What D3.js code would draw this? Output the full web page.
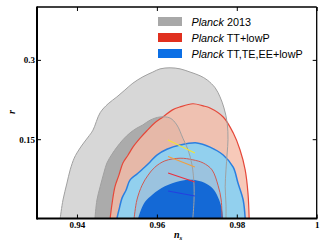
<!DOCTYPE html>
<html><head><meta charset="utf-8">
<script src="https://cdn.jsdelivr.net/npm/d3@7"></script>
<style>body{margin:0;background:#fff}svg{display:block}</style>
</head><body>
<script>
// ---- data (n_s, r) ----
const xTicks = [0.94, 0.96, 0.98, 1.0];
const xTickLabels = ["0.94", "0.96", "0.98", "1"];
const yTicks = [0.15, 0.3];
const yTickLabels = ["0.15", "0.3"];
const legendLabels = [["Planck", " 2013"], ["Planck", " TT+lowP"], ["Planck", " TT,TE,EE+lowP"]];

const grey95 = [[0.9358,0],[0.9365,0.035],[0.9375,0.067],[0.9383,0.092],[0.9393,0.114],[0.9400,0.124],[0.9413,0.139],[0.9428,0.154],[0.9440,0.167],[0.9458,0.2],[0.9478,0.217],[0.9500,0.230],[0.9520,0.243],[0.9540,0.256],[0.9565,0.268],[0.9590,0.277],[0.9608,0.283],[0.9633,0.285],[0.9658,0.283],[0.9683,0.277],[0.9708,0.270],[0.9726,0.262],[0.9746,0.247],[0.9758,0.230],[0.9768,0.209],[0.9776,0.181],[0.9778,0.149],[0.9776,0.124],[0.9773,0.092],[0.9771,0.060],[0.9773,0.026],[0.9773,0]];
const grey68 = [[0.9445,0],[0.9450,0.035],[0.9458,0.060],[0.9468,0.088],[0.9475,0.105],[0.9488,0.122],[0.9500,0.135],[0.9515,0.149],[0.9533,0.162],[0.9550,0.171],[0.9565,0.177],[0.9583,0.186],[0.9608,0.192],[0.9633,0.190],[0.9650,0.177],[0.9665,0.152],[0.9678,0.130],[0.9688,0.101],[0.9693,0.063],[0.9693,0.035],[0.9690,0]];
const red95 = [[0.9483,0],[0.9488,0.029],[0.9495,0.060],[0.9505,0.082],[0.9515,0.105],[0.9528,0.120],[0.9540,0.135],[0.9558,0.152],[0.9575,0.166],[0.9595,0.181],[0.9615,0.192],[0.9638,0.205],[0.9658,0.211],[0.9690,0.217],[0.9716,0.213],[0.9733,0.209],[0.9766,0.192],[0.9791,0.162],[0.9808,0.130],[0.9821,0.092],[0.9828,0.048],[0.9831,0]];
const red68 = [[0.9543,0],[0.9550,0.035],[0.9563,0.063],[0.9578,0.082],[0.9595,0.097],[0.9620,0.109],[0.9658,0.114],[0.9690,0.111],[0.9716,0.105],[0.9738,0.092],[0.9753,0.063],[0.9761,0.035],[0.9763,0]];
const blue95 = [[0.9500,0],[0.9505,0.016],[0.9513,0.039],[0.9523,0.054],[0.9533,0.073],[0.9550,0.084],[0.9565,0.094],[0.9583,0.107],[0.9600,0.120],[0.9625,0.131],[0.9658,0.139],[0.9700,0.143],[0.9733,0.135],[0.9766,0.120],[0.9791,0.097],[0.9803,0.067],[0.9816,0.035],[0.9821,0]];
const blue68 = [[0.9553,0],[0.9560,0.016],[0.9570,0.031],[0.9590,0.046],[0.9620,0.061],[0.9658,0.071],[0.9695,0.073],[0.9726,0.065],[0.9743,0.054],[0.9756,0.035],[0.9763,0.016],[0.9766,0]];
const segYellow = [[0.9628,0.1485],[0.9695,0.1239]];
const segOrange = [[0.9628,0.1173],[0.9695,0.0974]];
const segRed    = [[0.9628,0.0861],[0.9695,0.0690]];
const segBlue   = [[0.9628,0.0520],[0.9695,0.0426]];

const W = 327, H = 246;
const L = 37, R = 316.7, T = 7, B = 218.5;
const x = d3.scaleLinear().domain([0.93, 1.0]).range([L, R]);
const y = d3.scaleLinear().domain([0, 0.4]).range([B, T]);

const svg = d3.select("body").append("svg").attr("width", W).attr("height", H);
svg.append("defs").append("clipPath").attr("id","clip")
  .append("rect").attr("x",L).attr("y",T).attr("width",R-L).attr("height",B-T);
const g = svg.append("g").attr("clip-path","url(#clip)");

const line = d3.line().x(d=>x(d[0])).y(d=>y(d[1])).curve(d3.curveCatmullRom.alpha(0.5));
const area = d => line(d) + "Z";

g.append("path").attr("d", area(grey95)).attr("fill", "#d7d7d7");
g.append("path").attr("d", area(grey68)).attr("fill", "#ababab");
g.append("path").attr("d", area(red95)).attr("fill", "rgb(245,187,167)").attr("fill-opacity", 0.8);
g.append("path").attr("d", area(blue95)).attr("fill", "#92d0ee");
g.append("path").attr("d", area(red68)).attr("fill", "#9bc3df");
g.append("path").attr("d", area(blue68)).attr("fill", "#1469d6");

// outlines
g.append("path").attr("d", line(red95)).attr("fill","none").attr("stroke","#e5483a").attr("stroke-width",1.2);
g.append("path").attr("d", line(blue95)).attr("fill","none").attr("stroke","#2b7fe0").attr("stroke-width",1.5);
g.append("path").attr("d", line(red68)).attr("fill","none").attr("stroke","#d05a52").attr("stroke-width",1);
g.append("path").attr("d", line(grey95)).attr("fill","none").attr("stroke","#a0a0a0").attr("stroke-width",1);
g.append("path").attr("d", line(grey68)).attr("fill","none").attr("stroke","#a0a0a0").attr("stroke-width",1);

const segs = [[segYellow,"#f2e434"],[segOrange,"#f0a040"],[segRed,"#e83040"],[segBlue,"#2440e0"]];
segs.forEach(([s,c]) => g.append("path").attr("d", d3.line().x(d=>x(d[0])).y(d=>y(d[1]))(s))
  .attr("stroke", c).attr("stroke-width", 1.2).attr("fill","none"));

// axes (inward ticks)
const tickFont = "'Liberation Serif', 'DejaVu Serif', serif";
const fmtX = d => xTickLabels[xTicks.indexOf(d)];
const fmtY = d => yTickLabels[yTicks.indexOf(d)];
const ax = svg.append("g").attr("transform", `translate(0,${B})`)
  .call(d3.axisBottom(x).tickValues(xTicks).tickFormat(fmtX).tickSize(-4).tickPadding(3));
const axTop = svg.append("g").attr("transform", `translate(0,${T})`)
  .call(d3.axisTop(x).tickValues(xTicks).tickFormat("").tickSize(-4));
const ay = svg.append("g").attr("transform", `translate(${L},0)`)
  .call(d3.axisLeft(y).tickValues(yTicks).tickFormat(fmtY).tickSize(-4).tickPadding(2));
const ayR = svg.append("g").attr("transform", `translate(${R},0)`)
  .call(d3.axisRight(y).tickValues(yTicks).tickFormat("").tickSize(-4));
[ax, axTop, ay, ayR].forEach(a => {
  a.select(".domain").remove();
  a.selectAll(".tick line").attr("stroke", "#000").attr("stroke-width", 1);
  a.selectAll("text").attr("font-family", tickFont).attr("font-weight", "bold")
    .attr("font-size", 9).attr("fill", "#000");
});

// frame
svg.append("line").attr("x1",L).attr("x2",R).attr("y1",T).attr("y2",T).attr("stroke","#000").attr("stroke-width",1.3);
svg.append("line").attr("x1",R).attr("x2",R).attr("y1",T).attr("y2",B).attr("stroke","#000").attr("stroke-width",1.3);
svg.append("line").attr("x1",L).attr("x2",R+0.6).attr("y1",B).attr("y2",B).attr("stroke","#000").attr("stroke-width",2);
svg.append("line").attr("x1",L).attr("x2",L).attr("y1",T-0.6).attr("y2",B+1).attr("stroke","#000").attr("stroke-width",2);

// axis titles
const xl = svg.append("text").attr("x", 174).attr("y", 238).attr("font-family", tickFont)
  .attr("font-size", 10).attr("font-style","italic").attr("font-weight","bold");
xl.append("tspan").text("n");
xl.append("tspan").attr("font-size", 7).attr("dy", 2).text("s");
svg.append("text").attr("transform","translate(15,112) rotate(-90)").attr("text-anchor","middle")
  .attr("font-family", tickFont).attr("font-size", 10).attr("font-style","italic").attr("font-weight","bold").text("r");

// legend
const legColors = ["#a8a8a8", "#e0301f", "#0b6fe5"];
const legY = [17, 33, 49];
legendLabels.forEach((lab, i) => {
  svg.append("rect").attr("x", 158).attr("y", legY[i]).attr("width", 24).attr("height", 9).attr("fill", legColors[i]);
  const t = svg.append("text").attr("x", 191.5).attr("y", legY[i] + 8.8)
    .attr("font-family", "'Liberation Sans', Arial, sans-serif").attr("font-size", 10.8).attr("fill", "#000");
  t.append("tspan").attr("font-style", "italic").text(lab[0]);
  t.append("tspan").text(lab[1]);
});
</script>
</body></html>
